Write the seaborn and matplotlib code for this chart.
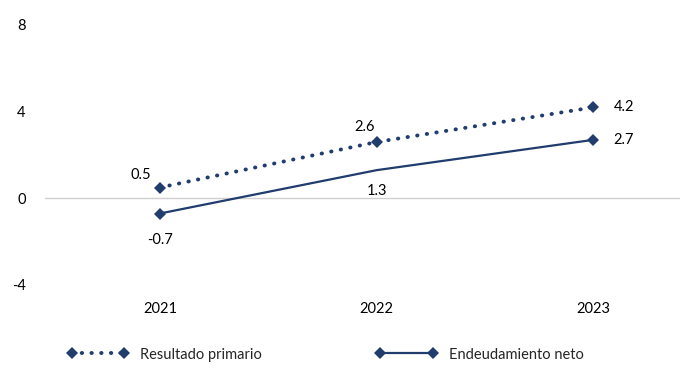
import matplotlib
matplotlib.use("Agg")
import matplotlib.pyplot as plt
import seaborn as sns
import pandas as pd

# ── Data ──────────────────────────────────────────────────────────────────────
years = ["2021", "2022", "2023"]
resultado_primario = [0.5, 2.6, 4.2]
endeudamiento_neto = [-0.7, 1.3, 2.7]
y_ticks = [-4, 0, 4, 8]

_NAVY = "#203D6E"

sns.set_theme(style="white")
plt.rcParams["font.family"] = ["Lato", "DejaVu Sans"]

df = pd.DataFrame({
    "year": years,
    "Resultado primario": resultado_primario,
    "Endeudamiento neto": endeudamiento_neto,
})

fig = plt.figure(figsize=(6.96, 3.71), dpi=100)
ax = fig.add_axes([45 / 696, 86 / 371, 635 / 696, 260 / 371])

sns.lineplot(data=df, x="year", y="Resultado primario", ax=ax, color=_NAVY,
             linestyle=(0, (0.1, 2.4)), dash_capstyle="round", lw=2.8,
             marker="D", markersize=6.5, markeredgewidth=0,
             label="Resultado primario")
sns.lineplot(data=df, x="year", y="Endeudamiento neto", ax=ax, color=_NAVY,
             lw=1.6, marker="D", markersize=6.5, markeredgewidth=0,
             markevery=[0, 2], label="Endeudamiento neto")

ax.axhline(0, color="#d0d0d0", lw=1, zorder=0)

# ── Data labels ──────────────────────────────────────────────────────────────
fs = 10.5
rp_offsets = [(-14, 9), (-9, 11), (22, 0)]
en_offsets = [(0, -19), (0, -15), (22, 0)]
for i, (v, off) in enumerate(zip(resultado_primario, rp_offsets)):
    ax.annotate(f"{v:.1f}", (i, v), xytext=off, textcoords="offset points",
                ha="center", va="center", fontsize=fs, color="black")
for i, (v, off) in enumerate(zip(endeudamiento_neto, en_offsets)):
    ax.annotate(f"{v:.1f}", (i, v), xytext=off, textcoords="offset points",
                ha="center", va="center", fontsize=fs, color="black")

ax.set_xlim(-0.53, 2.40)
ax.set_ylim(-4, 8)
ax.set_yticks(y_ticks)
ax.set_yticklabels([str(t) for t in y_ticks])
ax.set_xlabel("")
ax.set_ylabel("")
ax.tick_params(axis="both", length=0, labelsize=fs, colors="black")
ax.tick_params(axis="x", pad=12)
ax.tick_params(axis="y", pad=14)
for s in ax.spines.values():
    s.set_visible(False)

ax.get_legend().remove()
handles, labels = ax.get_legend_handles_labels()
fig.legend(handles, labels, loc="lower center", bbox_to_anchor=(0.468, -0.01),
           ncol=2, frameon=False, fontsize=fs, handlelength=4.2,
           columnspacing=7.8, numpoints=2)

fig.savefig("out.png", dpi=100)
